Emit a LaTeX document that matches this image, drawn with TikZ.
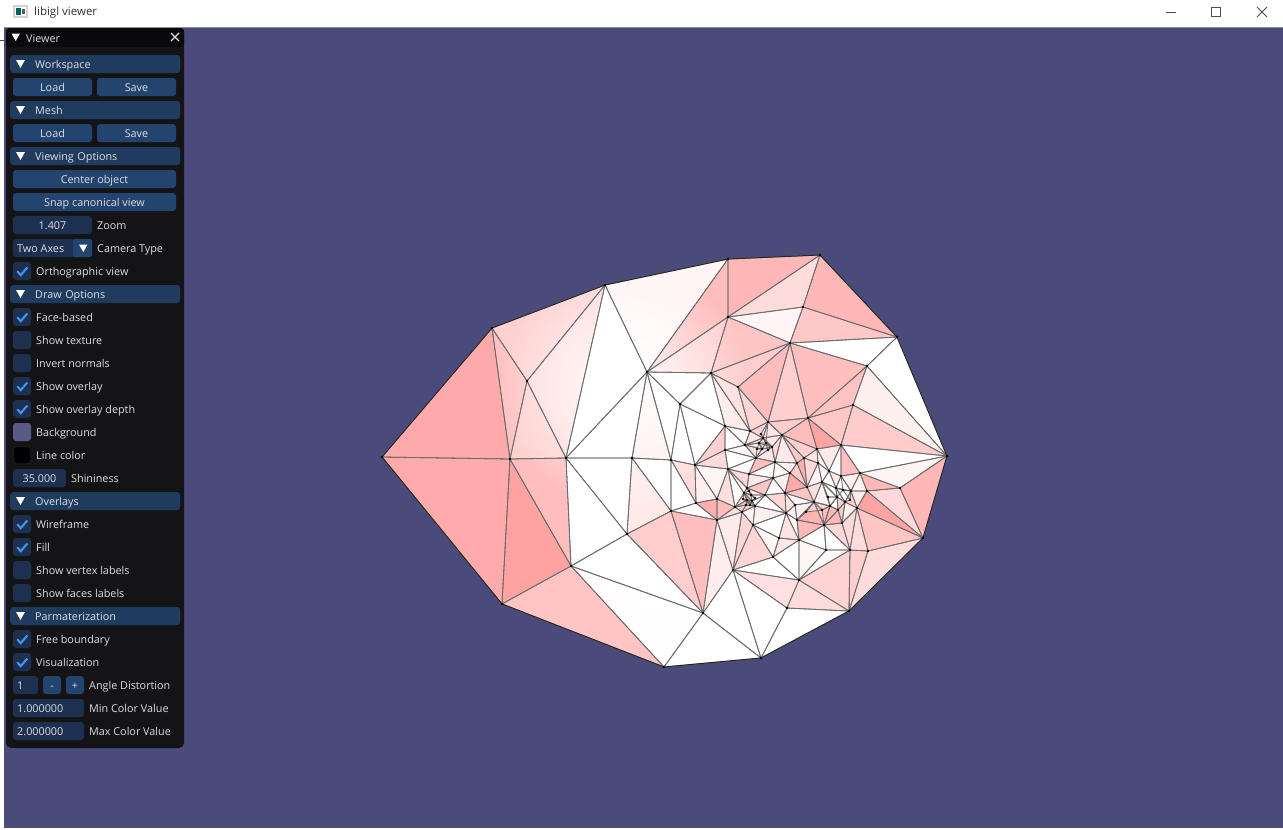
\documentclass[tikz,border=0pt]{standalone}
\usepackage{fontspec}
\setmainfont{Open Sans}
\usetikzlibrary{fadings}
\tikzfading[name=glow, inner color=transparent!0, outer color=transparent!100]
\tikzset{
	uitext/.style={font=\fontsize{10.8}{12}\selectfont, text=uilight, inner sep=0pt, text height=12pt, text depth=2.5pt},
	lbl/.style={uitext, anchor=west},
	headerbar/.style={uitext, anchor=west, fill=uihead, rounded corners=3pt, text width=120pt, inner xsep=25pt, inner ysep=1pt, align=left, minimum height=18pt},
	btn/.style={uitext, fill=uibtn, rounded corners=3pt, minimum height=18pt},
	field/.style={uitext, fill=uiframe, rounded corners=3pt, minimum height=18pt},
	chkbox/.style={fill=uiframe, rounded corners=3pt, minimum size=18pt, inner sep=0pt},
	tick/.style={draw=uitick, line width=2pt},
	wire/.style={draw=black!58, line width=.8pt, line join=round},
	border/.style={draw=black!85, line width=1pt, line join=round},
}
\begin{document}
\begin{tikzpicture}[x=1pt, y=-1pt]
	\definecolor{uibg}{RGB}{75, 75, 123}
	\definecolor{uilight}{RGB}{222, 222, 226}
	\definecolor{uipanel}{RGB}{20, 20, 23}
	\definecolor{uititle}{RGB}{10, 10, 12}
	\definecolor{uihead}{RGB}{31, 60, 95}
	\definecolor{uibtn}{RGB}{35, 68, 110}
	\definecolor{uiframe}{RGB}{29, 48, 80}
	\definecolor{uitick}{RGB}{66, 150, 250}
	\definecolor{pk}{RGB}{255, 160, 160}

	\useasboundingbox (0, 0) rectangle (1283, 830);
	\fill[white] (0, 0) rectangle (1283, 830);
	\fill[uibg] (4, 27) rectangle (1283, 828);
	\draw[black!45, line width=.8pt] (4, 27) -- (1283, 27);
	\draw[black!70, line width=.6pt] (0, 40.5) -- (4, 40.5);

	% title bar
	\fill[black!18] (13, 5) rectangle (28, 18);
	\fill[white] (15, 7) rectangle (26, 16);
	\fill[teal!75!black] (16, 8) rectangle (21, 15);
	\fill[black!65] (22, 9) rectangle (25, 14);
	\node[anchor=west, inner sep=0pt, text=black!80, font=\fontsize{11.5}{13}\selectfont] (wintitle) at (34, 13) {libigl viewer};
	\draw[black!70, line width=.9pt] (1166, 12) -- (1176, 12);
	\draw[black!70, line width=.9pt] (1211.5, 7.5) rectangle (1220.5, 16.5);
	\draw[black!70, line width=.9pt] (1257, 7) -- (1267, 17) (1267, 7) -- (1257, 17);

	% mesh vertices
	\def\vertlist{A/382/457, B/492/328, C/605/285, D/527/381, E/510/459, F/566/458, G/647/372,
		H/632/458, I/627/534, J/571/566, K/502/604, L/664/667, M/761/658, N/703/613,
		Pa/728/259, Pb/820/255, Pc/728/317, Pd/803/307, Pe/790/343, Pf/897/337, Pg/867/366,
		Ph/711/373, Pi/680/404, Pj/738/387, Pk/853/405, Pl/947/456, Pm/808/418, Pn/768/422,
		Po/725/426, Pp/750/431, Pq/841/445, Pr/817/449, Ps/782/435,
		Qa/671/460, Qb/695/465, Qc/725/450, Qd/728/469, Qe/671/511, Qf/696/503, Qg/717/499, Qh/717/520,
		Ra/733/570, Rb/787/608, Rc/799/580, Rd/773/557, Re/849/611, Rf/850/550, Rg/868/551,
		Rh/923/538, Ri/900/488, Rj/826/550, Rk/799/540, Rl/779/538, Rm/753/525,
		Ya/860/473, Yb/867/491, Yc/857/508, Za/824/525, Zb/797/520, Zc/842/523,
		ca/763/438, cb/759/443, cc/762/449, cd/772/447, ce/745/445, cf/756/458, cg/775/462, ch/797/463,
		ci/749/474, cj/773/478, ck/790/473, cl/747/488, cm/765/495, cn/785/493, co/747/500,
		cp/755/506, cq/735/507, cr/742/512, cs/786/513, ct/795/505,
		da/804/458, db/818/463, dc/829/471, dd/841/476, de/851/491, df/822/482, dg/807/487,
		dh/836/488, di/837/497, dj/845/502, dk/830/506, dl/814/502, dm/838/510,
		ea/744/493, eb/751/495, ec/746/505, ed/752/501,
		fa/766/443, fb/757/449, fc/768/450, fd/761/434, ga/749/491, gb/755/498, gc/743/499, gd/750/505,
		ha/843/490, hb/850/500, hc/828/497, hd/822/510, he/806/512}
	\foreach \n/\px/\py in \vertlist {
		\coordinate (\n) at (\px, \py);
	}

	% mesh faces, a/b/c/strength of the colour
	\def\trilist{A/B/E/100, A/E/K/98, B/D/E/72, B/C/D/55, C/D/F/45, D/E/F/55, E/F/J/78, E/J/K/110, J/K/L/70,
		C/F/G/0, F/H/G/0, F/H/I/0, F/I/J/0, J/I/N/0, J/N/L/3, L/N/M/0,
		C/Pa/G/12, Pa/Pc/G/78, G/Pc/Ph/55, Pa/Pb/Pc/85, Pb/Pc/Pd/42, Pc/Pd/Pe/12, Pb/Pd/Pf/85,
		Pd/Pe/Pf/65, Pc/Pe/Ph/68, Pe/Pf/Pg/0, Pf/Pg/Pl/0, Pg/Pk/Pl/18, Pe/Pg/Pm/75, Pg/Pk/Pm/72,
		Pk/Pl/Pq/62, Pk/Pm/Pq/65, Pm/Pq/Pr/108, Pm/Ps/Pr/80, Pe/Pn/Pm/58, Pe/Pj/Pn/80, Pe/Ph/Pj/60,
		Ph/Pj/Pp/40, Pj/Pn/Pp/50, Pn/Ps/Pm/60, Ph/Po/Pp/25, G/Ph/Pi/0, Ph/Pi/Po/0,
		G/H/Qa/22, G/Pi/Qa/0, Pi/Qa/Qb/0, Pi/Qb/Po/0, Qb/Po/Qc/62, Qb/Qc/Qd/45, Qa/Qb/Qf/45,
		Qa/Qe/Qf/0, H/Qa/Qe/0, H/I/Qe/25, I/Qe/N/60, Qe/Qh/N/75, Qe/Qf/Qh/0, Qh/N/Ra/22,
		N/Ra/M/0, Ra/Rb/M/0, Rb/Re/M/0, Ra/Rc/Rb/38, Rc/Rb/Re/42, Rc/Re/Rf/52, Rf/Re/Rg/58, Rg/Re/Rh/42,
		Ra/Rc/Rd/0, Rd/Rc/Rk/0, Rk/Rc/Rj/10, Rj/Rc/Rf/5, Rk/Rj/Za/0, Za/Rj/Rf/0,
		Za/Zc/Rf/50, Zc/Yc/Rf/45, Yc/Rf/Rg/42, Yc/Rg/Rh/68, Yc/Yb/Rh/108, Yb/Ri/Rh/45, Ya/Yb/Ri/85,
		Ya/Ri/Pl/14, Ri/Pl/Rh/85, Pq/Ya/Pl/0, Pq/dd/Ya/75, Pr/Pq/dc/25, Pq/dc/dd/0,
		dd/Ya/de/20, Ya/de/Yb/12, de/Yb/Yc/25, de/dj/Yc/55, dd/dh/de/0, dc/dh/dd/25, dc/df/dh/0,
		db/df/dc/15, Pr/db/dc/15, da/db/Pr/30, Ps/da/Pr/55, Ps/ch/da/65, Ps/cg/ch/25,
		ch/da/dg/95, da/db/dg/45, db/df/dg/15, ch/dg/ck/60, cg/ch/ck/15, cg/ck/cj/5,
		cj/ck/cn/20, ck/dg/cn/100, dg/dl/cn/70, dg/df/dl/40,
		df/dh/di/0, df/di/dk/15, df/dk/dl/15, dh/de/dj/0, dh/dj/di/5, di/dj/dm/60, di/dm/dk/0,
		dj/Yc/Zc/20, dj/Zc/dm/65, dk/dm/Za/85, dm/Zc/Za/85, dl/dk/Za/50, dl/Za/Zb/90,
		cn/dl/ct/10, ct/dl/Zb/20, cs/ct/Zb/20, cn/ct/cs/35, cm/cn/cs/50, cj/cn/cm/0,
		Zb/Rk/Za/85, cs/Zb/Rk/0, cs/Rk/Rl/35, Rl/Rk/Rd/30, Rm/Rl/Rd/8, Ra/Rm/Rd/50,
		cs/Rl/Rm/0, cp/cs/Rm/18, cm/cs/cp/0, cl/cj/cm/70, ci/cl/cj/25, ci/cj/cg/5, cf/ci/cg/75,
		Pp/ca/ce/30, Pp/Pn/ca/55, Pn/Ps/ca/30, ca/Ps/cd/25, ca/cb/cd/60, cb/cd/cc/40, ce/ca/cb/20,
		ce/cb/cc/30, ce/cc/cf/40, cc/cd/cf/25, cd/cg/cf/30, cd/Ps/cg/45,
		Po/Pp/ce/8, Po/ce/Qc/3, Qc/ce/cf/8, Qc/cf/Qd/0, Qd/cf/ci/0, Qd/ci/cl/45,
		Qd/cl/ea/5, Qd/ea/cq/5, Qd/cq/Qg/40, Qb/Qd/Qg/10, Qb/Qg/Qf/20,
		Qf/Qg/Qh/95, Qg/cq/Qh/80, Qh/cq/cr/40, Qh/cr/Ra/25, cr/Rm/Ra/50, cp/Rm/cr/15,
		cl/ea/eb/60, cl/eb/cm/20, eb/cm/ed/0, ea/eb/ed/40, ea/ed/co/70, ea/co/cq/30,
		co/ed/cp/50, ed/cm/cp/15, cq/co/ec/70, co/cp/ec/20, ec/cp/cr/60, cq/ec/cr/50,
		ca/fa/cd/60, fa/cc/cd/40, cb/fa/cc/50, fa/fc/cd/30, cb/fb/cc/30, fb/cc/cf/30, ca/fd/fa/40, fd/Pn/fa/35,
		ga/gb/eb/40, ga/eb/ea/60, gc/ea/co/50, gb/ed/eb/30, gd/co/ed/60, gd/cp/ed/20, gc/co/gd/40,
		ha/dd/de/5, ha/dh/di/10, ha/hb/de/0, hb/dj/de/5, hc/di/dk/10, hc/df/di/5, hd/dk/dl/45, hd/Za/dk/80, he/dl/hd/60, he/Zb/dl/70}

	\foreach \ta/\tb/\tc/\p in \trilist {
		\pgfmathtruncatemacro\q{\p*0.9}
		\filldraw[fill=pk!\q!white, draw=pk!\q!white, line width=.3pt] (\ta) -- (\tb) -- (\tc) -- cycle;
	}

	% highlight
	\begin{scope}
		\clip (A) -- (B) -- (C) -- (Pa) -- (Pb) -- (Pf) -- (Pl) -- (Rh) -- (Re) -- (M) -- (L) -- (K) -- cycle;
		\fill[white, path fading=glow] (622, 385) circle (125);
	\end{scope}

	% wires
	\foreach \ta/\tb/\tc/\p in \trilist {
		\draw[wire] (\ta) -- (\tb) -- (\tc) -- cycle;
	}
	\draw[border] (A) -- (B) -- (C) -- (Pa) -- (Pb) -- (Pf) -- (Pl) -- (Rh) -- (Re) -- (M) -- (L) -- (K) -- cycle;
	\foreach \n/\px/\py in \vertlist {
		\fill[black] (\n) circle (1.4);
	}

	% viewer panel
	\fill[uipanel, rounded corners=5pt] (6, 28) rectangle (184, 748);
	\fill[uititle, rounded corners=3pt] (6, 28) rectangle (184, 47);
	\fill[white] (11.5, 33.5) -- (20, 33.5) -- (15.75, 41) -- cycle;
	\node[lbl] (viewer) at (26, 37.5) {Viewer};
	\draw[uilight, line width=1.1pt] (171, 33) -- (179, 41) (179, 33) -- (171, 41);

	% section headers
	\foreach \n/\py/\t in {hwork/64/Workspace, hmesh/110/Mesh, hview/156/Viewing Options,
		hdraw/294/Draw Options, hover/501/Overlays, hparm/616/Parmaterization} {
		\node[headerbar] (\n) at (10, \py) {\t};
		\fill[white] (16, \py - 4) -- (25, \py - 4) -- (20.5, \py + 4) -- cycle;
	}

	% buttons
	\foreach \n/\px/\py/\w/\t in {wload/52.5/87/79/Load, wsave/136.5/87/79/Save, mload/52.5/133/79/Load, msave/136.5/133/79/Save,
		center/94.5/179/163/Center object, snap/94.5/202/163/Snap canonical view} {
		\node[btn, minimum width=\w] (\n) at (\px, \py) {\t};
	}

	% check boxes
	\foreach \n/\py/\t in {ortho/271/Orthographic view, face/317/Face-based, texture/340/Show texture, invert/363/Invert normals,
		overlay/386/Show overlay, depth/409/Show overlay depth, wframe/524/Wireframe, filled/547/Fill,
		vlabels/570/Show vertex labels, flabels/593/Show faces labels, free/639/Free boundary, visual/662/Visualization} {
		\node[chkbox] (\n) at (22, \py) {};
		\node[lbl] (\n t) at (36, \py) {\t};
	}
	\foreach \py in {271, 317, 386, 409, 524, 547, 639, 662} {
		\draw[tick] (17.3, \py + .2) -- (20.7, \py + 4.2) -- (27.3, \py - 3.5);
	}

	% colour swatches
	\node[chkbox, fill=uibg!92!white] (bgswatch) at (22, 432) {};
	\node[lbl] (bgswatch t) at (36, 432) {Background};
	\node[chkbox, fill=black, draw=uiframe, minimum size=17pt] (lineswatch) at (22, 455) {};
	\node[lbl] (lineswatch t) at (36, 455) {Line color};

	% value fields
	\node[field, minimum width=79] (zoomval) at (52.5, 225) {1.407};
	\node[lbl] (zoomval t) at (97, 225) {Zoom};
	\node[field, minimum width=79] (camval) at (52.5, 248) {};
	\node[lbl] (camtext) at (17, 248) {Two Axes};
	\fill[uibtn, rounded corners=2pt] (73, 239) rectangle (92, 257);
	\fill[white] (79, 244.5) -- (87.5, 244.5) -- (83.25, 252) -- cycle;
	\node[lbl] (camval t) at (97, 248) {Camera Type};
	\node[field, minimum width=53] (shine) at (39.5, 478) {35.000};
	\node[lbl] (shine t) at (71, 478) {Shininess};
	\node[field, minimum width=25] (angle) at (25.5, 685) {};
	\node[lbl] (angletext) at (17, 685) {1};
	\node[btn, minimum width=18] (minus) at (52, 685) {-};
	\node[btn, minimum width=18] (plus) at (75, 685) {+};
	\node[lbl] (angle t) at (89, 685) {Angle Distortion};
	\node[field, minimum width=71] (minval) at (48.5, 708) {};
	\node[lbl] (mintext) at (17, 708) {1.000000};
	\node[lbl] (minval t) at (89, 708) {Min Color Value};
	\node[field, minimum width=71] (maxval) at (48.5, 731) {};
	\node[lbl] (maxtext) at (17, 731) {2.000000};
	\node[lbl] (maxval t) at (89, 731) {Max Color Value};
\end{tikzpicture}
\end{document}
